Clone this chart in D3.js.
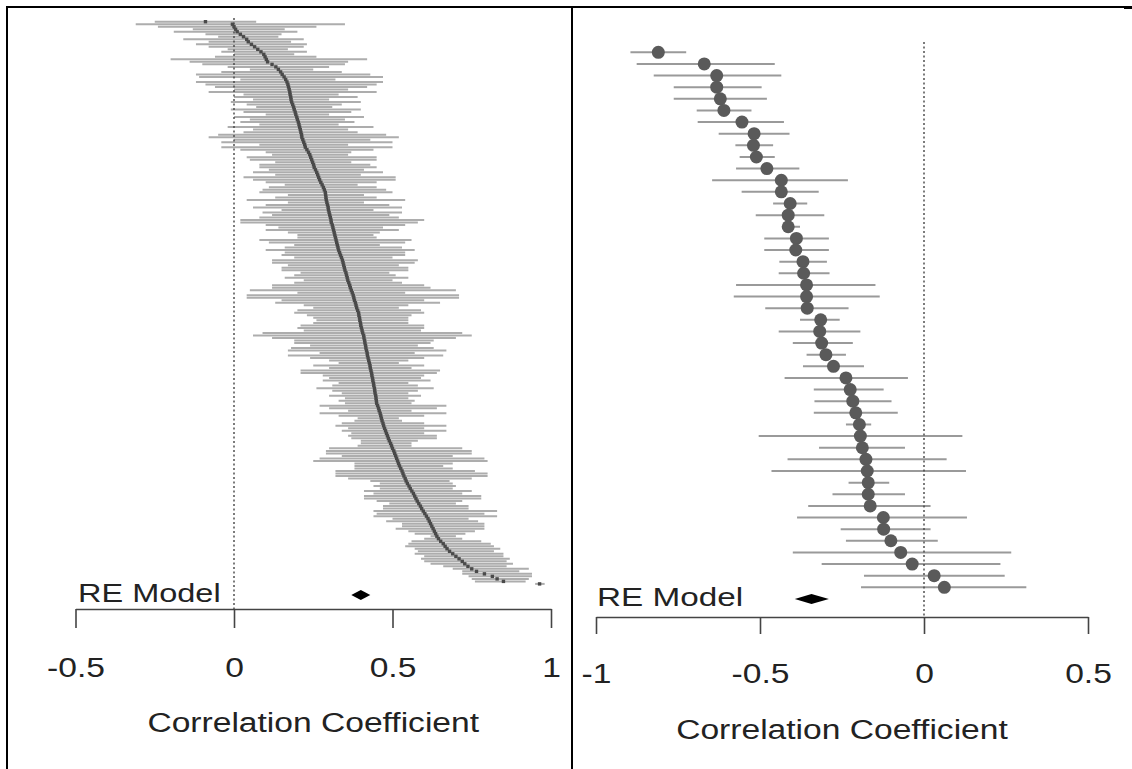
<!DOCTYPE html>
<html>
<head>
<meta charset="utf-8">
<script src="https://cdn.jsdelivr.net/npm/d3@7"></script>
<style>
  html, body { margin: 0; padding: 0; background: #fff; }
  svg { display: block; }
  text { font-family: "Liberation Sans", Arial, Helvetica, sans-serif; fill: #222; }
</style>
</head>
<body>
<svg id="chart" width="1132" height="769"></svg>
<script>
// ---------------- Left panel data (sorted studies, top to bottom) ----------------
const leftEst = [
 -0.09,-0.005,0,0.005,0.01,0.02,0.03,0.04,0.045,0.055,0.065,0.075,0.085,0.094,0.098,
 0.102,0.106,0.12,0.132,0.14,0.147,0.152,0.158,0.163,0.167,0.17,0.172,0.174,0.176,0.177,
 0.179,0.18,0.182,0.185,0.188,0.19,0.193,0.195,0.198,0.2,0.203,0.205,0.207,0.209,0.211,
 0.213,0.214,0.217,0.22,0.223,0.225,0.23,0.235,0.239,0.242,0.245,0.248,0.251,0.253,0.257,
 0.261,0.264,0.267,0.27,0.274,0.278,0.282,0.285,0.288,0.289,0.29,0.291,0.293,0.295,0.297,
 0.298,0.3,0.302,0.304,0.306,0.307,0.31,0.312,0.314,0.316,0.318,0.32,0.322,0.324,0.326,
 0.328,0.33,0.333,0.336,0.339,0.342,0.344,0.346,0.348,0.35,0.353,0.355,0.357,0.359,0.362,
 0.365,0.367,0.37,0.373,0.376,0.378,0.38,0.383,0.385,0.387,0.39,0.393,0.394,0.396,0.397,
 0.399,0.4,0.402,0.404,0.406,0.409,0.41,0.412,0.413,0.415,0.416,0.418,0.42,0.421,0.423,
 0.425,0.427,0.429,0.43,0.432,0.434,0.435,0.437,0.438,0.44,0.441,0.443,0.444,0.445,0.447,
 0.448,0.449,0.45,0.453,0.456,0.458,0.461,0.463,0.465,0.467,0.47,0.472,0.475,0.478,0.481,
 0.484,0.487,0.49,0.494,0.497,0.5,0.504,0.507,0.51,0.513,0.516,0.519,0.522,0.526,0.53,
 0.533,0.536,0.54,0.543,0.547,0.552,0.556,0.561,0.566,0.57,0.574,0.578,0.583,0.588,0.592,
 0.597,0.602,0.607,0.612,0.616,0.62,0.624,0.628,0.632,0.636,0.64,0.645,0.652,0.66,0.666,
 0.672,0.68,0.69,0.7,0.71,0.72,0.728,0.738,0.75,0.765,0.79,0.815,0.83,0.85,0.964
];
const leftLo = [
 -0.25,-0.31,-0.24,-0.13,-0.19,-0.09,-0.05,-0.16,-0.08,-0.12,-0.08,-0.02,-0.04,0.0,-0.06,
 -0.2,-0.14,-0.1,-0.02,0.05,-0.04,-0.12,-0.11,0.02,-0.12,-0.09,-0.06,0.0,-0.08,0.03,
 0.0,0.06,-0.01,0.04,0.07,-0.01,0.03,0.1,0.0,0.05,0.02,0.08,-0.02,0.06,0.03,
 -0.05,-0.08,0.0,-0.04,0.08,-0.04,0.02,0.1,0.12,0.04,0.05,0.13,0.08,0.08,0.11,
 0.06,0.13,0.03,0.06,0.1,0.16,0.11,0.09,0.08,0.17,0.13,0.04,0.17,0.1,0.06,
 0.15,0.09,0.12,0.08,0.02,0.02,0.1,0.14,0.1,0.17,0.2,0.2,0.08,0.11,0.19,
 0.16,0.1,0.16,0.15,0.19,0.12,0.12,0.17,0.15,0.15,0.21,0.19,0.16,0.22,0.19,
 0.12,0.12,0.05,0.2,0.04,0.04,0.15,0.13,0.22,0.25,0.2,0.19,0.23,0.25,0.26,
 0.25,0.21,0.2,0.22,0.09,0.06,0.12,0.19,0.19,0.24,0.18,0.17,0.27,0.17,0.24,
 0.3,0.33,0.25,0.3,0.21,0.21,0.28,0.3,0.28,0.33,0.31,0.26,0.31,0.34,0.3,
 0.35,0.33,0.35,0.27,0.3,0.36,0.27,0.33,0.39,0.38,0.34,0.32,0.36,0.34,0.37,
 0.36,0.37,0.4,0.4,0.39,0.3,0.29,0.29,0.34,0.27,0.25,0.38,0.38,0.38,0.32,
 0.32,0.32,0.36,0.43,0.46,0.44,0.46,0.41,0.44,0.41,0.41,0.45,0.49,0.47,0.47,
 0.44,0.45,0.44,0.5,0.48,0.53,0.53,0.51,0.55,0.57,0.62,0.6,0.56,0.55,0.54,
 0.57,0.58,0.57,0.6,0.59,0.6,0.62,0.66,0.69,0.72,0.72,0.74,0.75,0.76,0.95
];
const leftHi = [
 0.07,0.35,0.26,0.16,0.2,0.15,0.14,0.22,0.18,0.23,0.22,0.17,0.23,0.19,0.26,
 0.42,0.36,0.35,0.3,0.25,0.34,0.43,0.47,0.32,0.47,0.45,0.42,0.36,0.45,0.33,
 0.39,0.3,0.4,0.34,0.31,0.4,0.37,0.3,0.41,0.35,0.38,0.33,0.44,0.36,0.39,
 0.48,0.52,0.43,0.5,0.36,0.5,0.44,0.37,0.36,0.45,0.45,0.37,0.43,0.45,0.41,
 0.47,0.4,0.51,0.51,0.45,0.39,0.45,0.48,0.5,0.41,0.45,0.54,0.41,0.49,0.53,
 0.44,0.53,0.49,0.52,0.6,0.58,0.54,0.47,0.52,0.46,0.44,0.45,0.56,0.54,0.46,
 0.53,0.57,0.54,0.54,0.5,0.58,0.57,0.52,0.55,0.55,0.49,0.51,0.55,0.5,0.53,
 0.6,0.62,0.7,0.54,0.71,0.71,0.6,0.65,0.55,0.52,0.59,0.6,0.56,0.55,0.55,
 0.55,0.6,0.6,0.59,0.72,0.75,0.7,0.63,0.62,0.58,0.63,0.67,0.57,0.66,0.6,
 0.55,0.52,0.6,0.56,0.65,0.64,0.6,0.59,0.62,0.55,0.58,0.63,0.58,0.55,0.59,
 0.55,0.57,0.56,0.67,0.64,0.56,0.67,0.6,0.52,0.53,0.6,0.67,0.6,0.67,0.6,
 0.64,0.64,0.58,0.56,0.56,0.72,0.75,0.75,0.69,0.79,0.8,0.69,0.66,0.69,0.76,
 0.8,0.8,0.75,0.68,0.69,0.7,0.69,0.75,0.72,0.78,0.78,0.72,0.7,0.74,0.74,
 0.83,0.79,0.83,0.74,0.77,0.79,0.79,0.79,0.76,0.73,0.7,0.72,0.78,0.81,0.82,
 0.84,0.82,0.85,0.85,0.87,0.86,0.88,0.86,0.93,0.9,0.94,0.94,0.93,0.92,0.98
];
const leftRE = { est: 0.40, lo: 0.37, hi: 0.43 };
const leftTicks = [-0.5, 0, 0.5, 1];
const leftTickLabels = ["-0.5", "0", "0.5", "1"];

// ---------------- Right panel data ----------------
const rightEst = [
 -0.81,-0.67,-0.632,-0.632,-0.621,-0.61,-0.555,-0.518,-0.52,-0.511,
 -0.479,-0.435,-0.435,-0.408,-0.414,-0.414,-0.389,-0.391,-0.369,-0.367,
 -0.358,-0.358,-0.356,-0.315,-0.318,-0.312,-0.299,-0.276,-0.238,-0.225,
 -0.217,-0.208,-0.197,-0.194,-0.188,-0.177,-0.173,-0.17,-0.17,-0.164,
 -0.124,-0.123,-0.101,-0.071,-0.036,0.031,0.062
];
const rightLo = [
 -0.895,-0.876,-0.824,-0.763,-0.763,-0.693,-0.69,-0.626,-0.575,-0.562,
 -0.573,-0.646,-0.556,-0.46,-0.513,-0.433,-0.487,-0.487,-0.441,-0.443,
 -0.573,-0.58,-0.484,-0.378,-0.443,-0.4,-0.358,-0.369,-0.425,-0.336,
 -0.334,-0.336,-0.238,-0.504,-0.32,-0.416,-0.465,-0.23,-0.279,-0.353,
 -0.387,-0.254,-0.238,-0.4,-0.312,-0.183,-0.192
];
const rightHi = [
 -0.725,-0.455,-0.435,-0.495,-0.479,-0.526,-0.427,-0.41,-0.46,-0.455,
 -0.38,-0.232,-0.321,-0.356,-0.304,-0.378,-0.29,-0.29,-0.296,-0.288,
 -0.148,-0.135,-0.23,-0.257,-0.194,-0.217,-0.238,-0.183,-0.049,-0.123,
 -0.099,-0.08,-0.161,0.117,-0.058,0.069,0.128,-0.106,-0.058,0.02,
 0.131,0.02,0.042,0.266,0.233,0.246,0.312
];
const rightRE = { est: -0.343, lo: -0.394, hi: -0.29 };
const rightTicks = [-1, -0.5, 0, 0.5];
const rightTickLabels = ["-1", "-0.5", "0", "0.5"];

const reLabel = "RE Model";
const xTitle = "Correlation Coefficient";

// ---------------- Drawing ----------------
const svg = d3.select("#chart");
const SX = 1.2; // horizontal stretch of text in the reference

// frame
svg.append("line").attr("x1", 7).attr("x2", 7).attr("y1", 6).attr("y2", 769).attr("stroke", "#000").attr("stroke-width", 2);
svg.append("line").attr("x1", 6).attr("x2", 1132).attr("y1", 7).attr("y2", 7).attr("stroke", "#000").attr("stroke-width", 2);
svg.append("line").attr("x1", 572).attr("x2", 572).attr("y1", 6).attr("y2", 769).attr("stroke", "#000").attr("stroke-width", 2);
svg.append("rect").attr("x", 1124).attr("y", 6).attr("width", 8).attr("height", 3).attr("fill", "#000");

function panel(cfg) {
  const g = svg.append("g");
  const n = cfg.est.length;
  const x = d3.scaleLinear().domain(cfg.domain).range(cfg.xRange);
  const y = d3.scaleLinear().domain([0, n - 1]).range(cfg.yRange);
  const idx = d3.range(n);

  // CI segments
  g.append("g").selectAll("line").data(idx).join("line")
    .attr("x1", i => x(cfg.lo[i])).attr("x2", i => x(cfg.hi[i]))
    .attr("y1", i => y(i)).attr("y2", i => y(i))
    .attr("stroke", cfg.ciColor).attr("stroke-width", cfg.ciWidth);

  // reference (zero) line, dotted
  g.append("line")
    .attr("x1", x(0)).attr("x2", x(0))
    .attr("y1", cfg.zeroTop).attr("y2", cfg.axisY)
    .attr("stroke", "#444").attr("stroke-width", 1.4)
    .attr("stroke-dasharray", "2,2.5");

  // point estimates
  if (cfg.circles) {
    g.append("g").selectAll("circle").data(idx).join("circle")
      .attr("cx", i => x(cfg.est[i])).attr("cy", i => y(i))
      .attr("r", cfg.pointSize).attr("fill", "#5a5a5a");
  } else {
    g.append("g").selectAll("rect").data(idx).join("rect")
      .attr("x", i => x(cfg.est[i]) - cfg.pointSize / 2)
      .attr("y", i => y(i) - cfg.pointSize / 2)
      .attr("width", cfg.pointSize).attr("height", cfg.pointSize)
      .attr("fill", "#4a4a4a");
  }

  // RE model diamond
  const re = cfg.re;
  g.append("path")
    .attr("d", `M${x(re.lo)},${cfg.reY} L${x(re.est)},${cfg.reY - cfg.reH} L${x(re.hi)},${cfg.reY} L${x(re.est)},${cfg.reY + cfg.reH} Z`)
    .attr("fill", "#000");

  g.append("text")
    .attr("transform", `translate(${cfg.reTextX},${cfg.reTextY}) scale(${cfg.reScale},1)`)
    .attr("font-size", cfg.reFont)
    .text(reLabel);

  // axis
  const axis = d3.axisBottom(x)
    .tickValues(cfg.ticks)
    .tickSize(cfg.tickLen)
    .tickSizeOuter(0)
    .tickFormat((d, i) => cfg.tickLabels[i]);
  const ag = g.append("g").attr("transform", `translate(0,${cfg.axisY})`).call(axis);
  ag.select(".domain").attr("stroke", "#444").attr("stroke-width", 1.6);
  ag.selectAll(".tick line").attr("stroke", "#444").attr("stroke-width", 1.6);
  ag.selectAll(".tick text")
    .attr("y", cfg.labelBaseline - cfg.axisY).attr("dy", 0)
    .attr("font-size", 28)
    .attr("font-family", "'Liberation Sans', Arial, sans-serif")
    .attr("fill", "#222")
    .attr("transform", `scale(${SX},1)`);

  // axis title
  g.append("text")
    .attr("transform", `translate(${(cfg.xRange[0] + cfg.xRange[1]) / 2},${cfg.titleBaseline}) scale(${SX},1)`)
    .attr("text-anchor", "middle")
    .attr("font-size", 28)
    .text(xTitle);
}

panel({
  est: leftEst, lo: leftLo, hi: leftHi, re: leftRE,
  domain: [-0.5, 1], xRange: [75.5, 551],
  yRange: [21.7, 583.9],
  zeroTop: 18, axisY: 609, tickLen: 19,
  ticks: leftTicks, tickLabels: leftTickLabels,
  labelBaseline: 677, titleBaseline: 731.5,
  ciColor: "#adadad", ciWidth: 2, circles: false, pointSize: 3.4,
  reY: 595, reH: 5,
  reTextX: 78, reTextY: 602, reFont: 25, reScale: 1.3
});

panel({
  est: rightEst, lo: rightLo, hi: rightHi, re: rightRE,
  domain: [-1, 0.5], xRange: [596, 1088],
  yRange: [52.3, 587.3],
  zeroTop: 42, axisY: 617, tickLen: 17,
  ticks: rightTicks, tickLabels: rightTickLabels,
  labelBaseline: 683, titleBaseline: 739,
  ciColor: "#9a9a9a", ciWidth: 2, circles: true, pointSize: 6.5,
  reY: 599, reH: 5,
  reTextX: 597, reTextY: 606, reFont: 26, reScale: 1.28
});
</script>
</body>
</html>
